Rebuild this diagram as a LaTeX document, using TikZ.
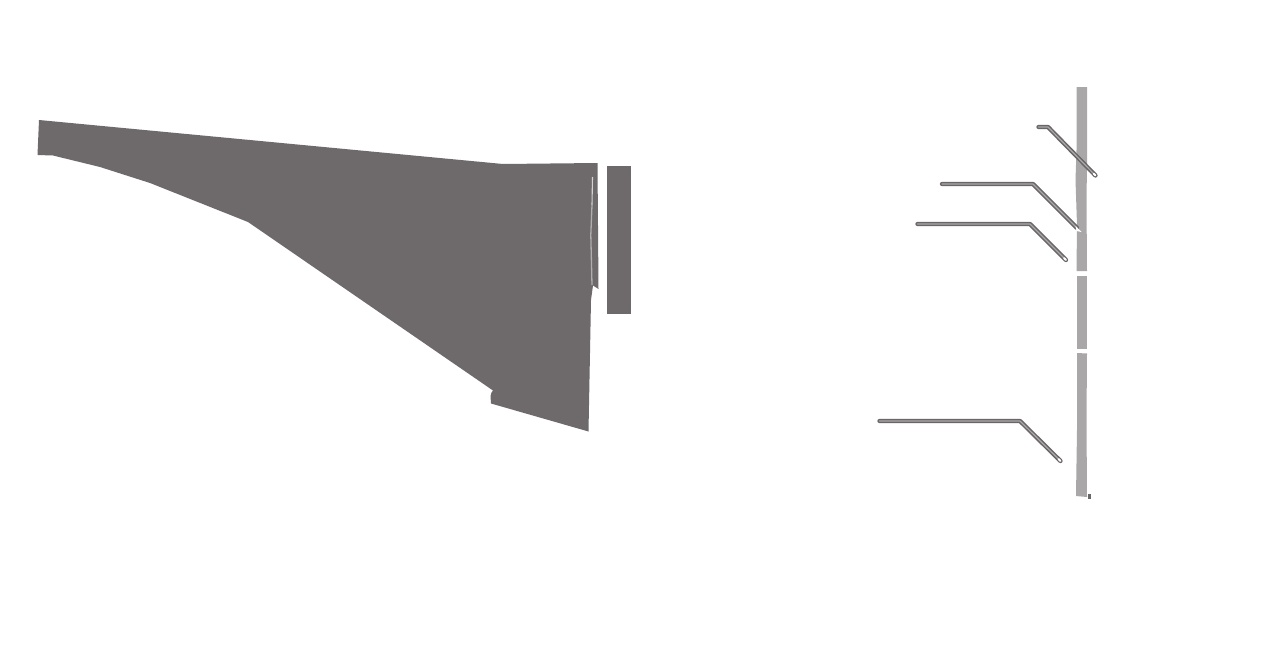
\documentclass[tikz,border=0pt]{standalone}
\definecolor{massgray}{HTML}{6E6A6B}
\definecolor{bargray}{HTML}{A9A7A8}
\definecolor{wiregray}{HTML}{6A6667}
\definecolor{wirecore}{HTML}{ABA9AA}
\tikzset{
  mass/.style={fill=massgray,draw=none},
  bar/.style={fill=bargray,draw=none},
  wire/.style={draw=wiregray,line width=4.3pt,line cap=round,line join=round,
    postaction={draw=wirecore,line width=1.2pt}},
  wiretip/.style={draw=white,line width=2pt,line cap=round}
}
\begin{document}
\begin{tikzpicture}[x=1pt,y=-1pt]
\useasboundingbox (0,0) rectangle (1262,672);
% main wedge
\path[mass] (39,120) -- (503,164) -- (597.5,163) -- (598.5,289) -- (593,285.5)
  -- (591,300) -- (588.5,431.5) -- (491,403.5) -- (490.5,396) -- (491.5,392.5) -- (493,390.5)
  -- (248,222) -- (150,183) -- (100,167) -- (53,155.5) -- (37.5,155) -- cycle;
\draw[draw=white!70!massgray,line width=1.1pt] (592.5,177) -- (592,205);
\draw[draw=white!45!massgray,line width=1.3pt] (592,205) -- (590.8,235) -- (592,285);
% right block
\path[mass] (607,166) rectangle (631,314);
% bars
\path[bar] (1076.5,87) -- (1087,87) -- (1087,165) -- (1086.5,200) -- (1087,271) -- (1076.5,271)
  -- (1077,225) -- (1075.5,180) -- (1076.5,150) -- cycle;
\path[bar] (1077,276) -- (1087,276) -- (1087,349) -- (1077,349) -- cycle;
\path[bar] (1077,353) -- (1087,353.5) -- (1086.5,420) -- (1087,497) -- (1076,496) -- (1077,430) -- cycle;
\path[fill=wiregray] (1087.8,494) rectangle (1090.5,498.5);
% wires
\draw[wire] (1038.5,127) -- (1048,127) -- (1095.5,175.5);
\draw[wire] (942,184) -- (1033,184) -- (1077,228);
\draw[wire] (917.5,224) -- (1030,224) -- (1066,260);
\draw[wire] (879.5,421) -- (1020,421) -- (1060.5,461);
% tips
\draw[wiretip] (1093.8,173.8) -- (1095.4,175.4);
\draw[wiretip] (1064,258) -- (1065.8,259.8);
\draw[wiretip] (1058.5,459) -- (1060.3,460.8);
\path[fill=white] (1075.5,226) -- (1081.5,232) -- (1076.5,231) -- cycle;
\end{tikzpicture}
\end{document}
